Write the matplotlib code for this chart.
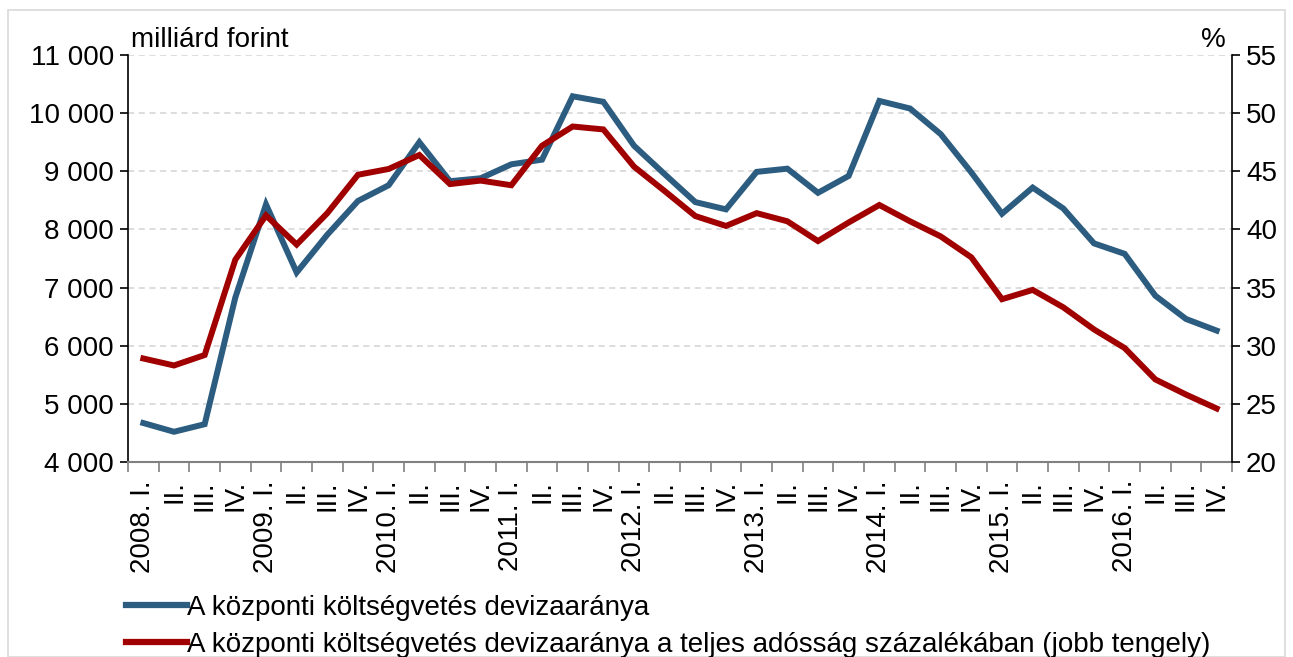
import numpy as np
import matplotlib.pyplot as plt
from matplotlib.lines import Line2D
from matplotlib.patches import Rectangle

plt.rcParams['font.family'] = ['Liberation Sans', 'DejaVu Sans']

# ---- data ----
years = [2008, 2009, 2010, 2011, 2012, 2013, 2014, 2015, 2016]
quarters = ['I.', 'II.', 'III.', 'IV.']

# central budget FX debt (billion HUF, left axis)
fx_debt = [4670, 4520, 4650, 6830, 8430, 7260, 7910, 8490, 8760, 9500, 8830, 8880,
           9120, 9200, 10290, 10195, 9440, 8950, 8470, 8345, 8990, 9045, 8630, 8920,
           10210, 10080, 9640, 8980, 8270, 8720, 8360, 7760, 7580, 6860, 6460, 6260]

# FX share of total debt (%, right axis)
fx_share = [28.9, 28.3, 29.2, 37.4, 41.2, 38.7, 41.4, 44.7, 45.2, 46.4, 43.9, 44.2,
            43.8, 47.2, 48.85, 48.6, 45.4, 43.3, 41.15, 40.3, 41.4, 40.7, 39.0, 40.6,
            42.1, 40.7, 39.4, 37.6, 34.0, 34.8, 33.3, 31.4, 29.8, 27.1, 25.8, 24.6]

labels = []
for y in years:
    for qi, q in enumerate(quarters):
        labels.append(f'{y}. {q}' if qi == 0 else q)

blue = '#2c5d80'
red = '#a00000'
fs = 20

fig = plt.figure(figsize=(12.93, 6.57), dpi=100)
ax = fig.add_axes([128 / 1293, 1 - 462 / 657, (1232 - 128) / 1293, (462 - 55) / 657])
ax2 = ax.twinx()

x = np.arange(len(fx_debt))
ax.plot(x, fx_debt, color=blue, lw=4.3, solid_joinstyle='miter', zorder=3)
ax2.plot(x, fx_share, color=red, lw=4.3, solid_joinstyle='miter', zorder=3)

ax.set_xlim(-0.5, len(x) - 0.5)
ax.set_ylim(4000, 11000)
ax2.set_ylim(20, 55)
ax.set_yticks(np.arange(4000, 11001, 1000))
ax.set_yticklabels([f'{v:,}'.replace(',', ' ') for v in range(4000, 11001, 1000)], fontsize=fs)
ax2.set_yticks(np.arange(20, 56, 5))
ax2.set_yticklabels([str(v) for v in range(20, 56, 5)], fontsize=fs)

for v in range(5000, 11001, 1000):
    ax.axhline(v, color='#d3d3d3', lw=1.1, ls=(0, (4, 3)), zorder=1)

# x ticks at category boundaries, labels at centres
ax.set_xticks(np.arange(-0.5, len(x), 1.0))
ax.set_xticklabels([])
ax.set_xticks(x, minor=True)
ax.set_xticklabels(labels, minor=True, rotation=90, fontsize=fs, va='top', ha='center')
ax.tick_params(axis='x', which='minor', length=0, pad=13)
ax.tick_params(axis='x', which='major', length=7, color='#808080', width=1.2)
ax.tick_params(axis='y', length=6, width=1.2, pad=4)
ax2.tick_params(axis='y', length=6, width=1.2, pad=4)

for a in (ax, ax2):
    a.spines['top'].set_visible(False)
ax.spines['right'].set_visible(False)
ax2.spines['left'].set_visible(False)
ax.spines['bottom'].set_color('#808080')
ax2.spines['bottom'].set_visible(False)
ax.spines['bottom'].set_linewidth(1.5)
ax.spines['left'].set_linewidth(1.2)
ax2.spines['right'].set_linewidth(1.2)

fig.text(131 / 1293, 1 - 40 / 657, 'milliárd forint', fontsize=fs, ha='left', va='center')
fig.text(1226 / 1293, 1 - 40 / 657, '%', fontsize=fs, ha='right', va='center')

handles = [Line2D([], [], color=blue, lw=4.5),
           Line2D([], [], color=red, lw=4.5)]
fig.legend(handles, ['A központi költségvetés devizaaránya',
                     'A központi költségvetés devizaaránya a teljes adósság százalékában (jobb tengely)'],
           loc='upper left', bbox_to_anchor=(126 / 1293, 1 - 595 / 657), frameon=False,
           fontsize=fs, handlelength=2.2, handletextpad=0.0, labelspacing=0.38,
           borderpad=0, borderaxespad=0)

fig.patches.append(Rectangle((8 / 1293, 0), 1 - 16 / 1293, 1 - 10 / 657, transform=fig.transFigure,
                             fill=False, edgecolor='#d9d9d9', lw=1.2))

fig.savefig('out.png', dpi=100)
